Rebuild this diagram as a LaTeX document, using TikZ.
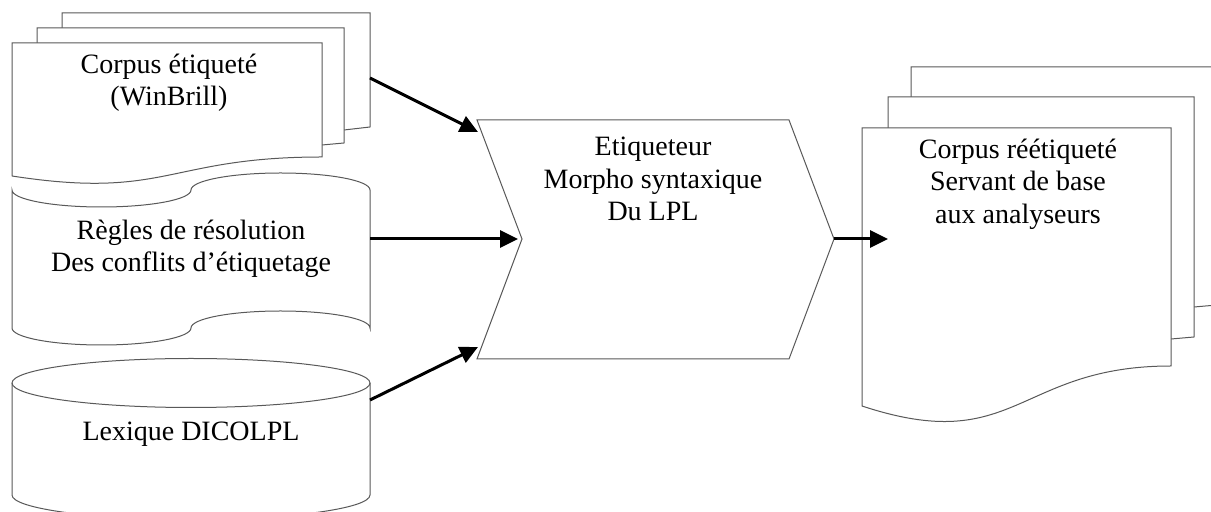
\documentclass[tikz,border=0pt]{standalone}
\usepackage{fontspec}
\setmainfont{Liberation Serif}
\usetikzlibrary{arrows.meta}
\tikzset{
  outline/.style={draw=black!65, line width=0.5pt, fill=white, line join=miter},
  lbl/.style={inner sep=0pt, align=center, font=\fontsize{14}{16.2}\selectfont},
  flow/.style={line width=1.5pt, -{Triangle[length=9pt,width=8.5pt]}}
}
\begin{document}
\begin{tikzpicture}[x=0.5pt,y=-0.5pt]
\clip (0,0) rectangle (1211,512);
\fill[white] (0,0) rectangle (1211,512);

% ---- multi-document (top left)
\draw[outline] (62,28) -- (62,13) -- (370,13) -- (370,127) -- (344,130);
\draw[outline] (37,43) -- (37,28) -- (344,28) -- (344,143) -- (322,145);
\draw[outline] (12,43) -- (322,43) -- (322,157)
  .. controls (167,157) and (167,200) .. (12,176) -- cycle;
\node[lbl] (corpus) at (169,83) {Corpus étiqueté\\(WinBrill)};
\coordinate (corpusout) at (370,78);

% ---- punched tape
\draw[outline] (12,190)
  .. controls (12,199.4) and (52.1,207) .. (101.5,207)
  .. controls (150.9,207) and (191,199.4) .. (191,190)
  .. controls (191,180.6) and (231.1,173) .. (280.5,173)
  .. controls (329.9,173) and (370,180.6) .. (370,190)
  -- (370,328)
  .. controls (370,318.6) and (329.9,311) .. (280.5,311)
  .. controls (231.1,311) and (191,318.6) .. (191,328)
  .. controls (191,337.4) and (150.9,345) .. (101.5,345)
  .. controls (52.1,345) and (12,337.4) .. (12,328) -- cycle;
\node[lbl] (regles) at (191,249) {Règles de résolution\\Des conflits d’étiquetage};
\coordinate (reglesout) at (370,239);

% ---- cylinder
\draw[outline] (12,383) -- (12,495) arc[start angle=180, end angle=360, x radius=179, y radius=-24.5]
  -- (370,383) arc[start angle=0, end angle=180, x radius=179, y radius=-24.5] -- cycle;
\draw[outline, fill=none] (12,383) arc[start angle=180, end angle=360, x radius=179, y radius=-24.5];
\node[lbl] (lexique) at (191,434) {Lexique DICOLPL};
\coordinate (lexiqueout) at (370,400);

% ---- chevron
\draw[outline] (477,120) -- (789,120) -- (834,239) -- (789,359) -- (477,359) -- (522,239) -- cycle;
\node[lbl] (etiq) at (653,179) {Etiqueteur\\Morpho syntaxique\\Du LPL};
\coordinate (chevin1) at (478,132);
\coordinate (chevin2) at (518,239);
\coordinate (chevin3) at (478,347);
\coordinate (chevout) at (834,239);

% ---- multi-document (right)
\draw[outline] (911,97) -- (911,67) -- (1240,67) -- (1240,303) -- (1194,307);
\draw[outline] (888,128) -- (888,97) -- (1194,97) -- (1194,337) -- (1171,339);
\draw[outline] (862,128) -- (1171,128) -- (1171,366)
  .. controls (1016.5,366) and (1016.5,457) .. (862,406) -- cycle;
\node[lbl] (result) at (1018,184) {Corpus réétiqueté\\Servant de base\\aux analyseurs};
\coordinate (resultin) at (888,239);

% ---- connectors
\draw[flow] (corpusout) -- (chevin1);
\draw[flow] (reglesout) -- (chevin2);
\draw[flow] (lexiqueout) -- (chevin3);
\draw[flow] (chevout) -- (resultin);
\end{tikzpicture}
\end{document}
